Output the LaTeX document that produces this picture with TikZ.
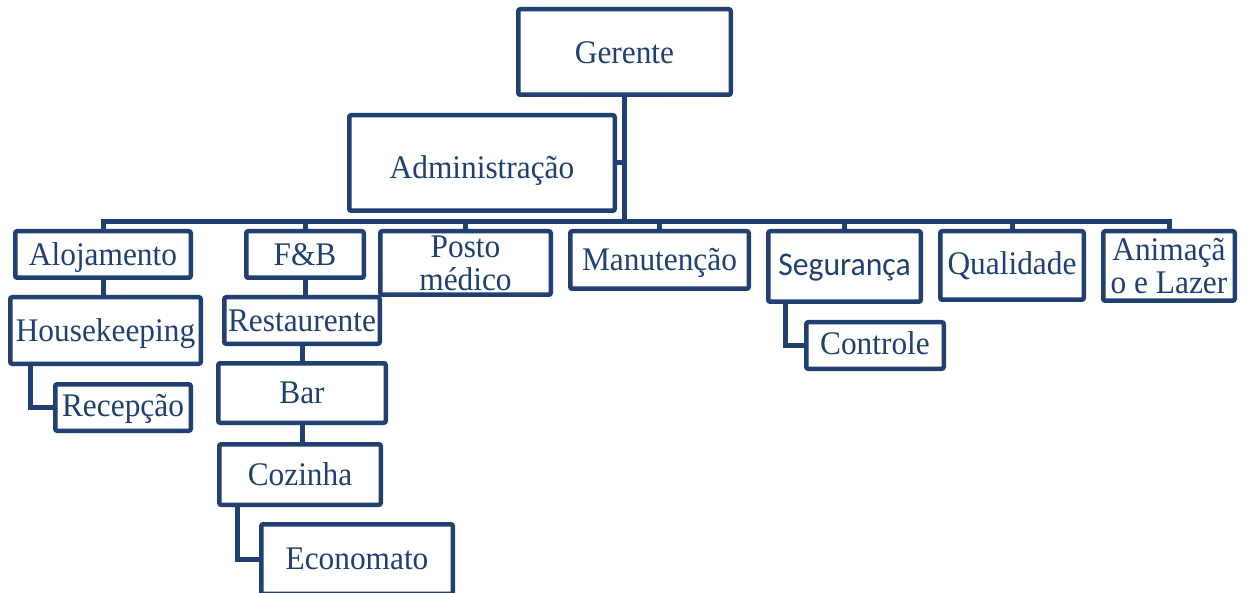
\documentclass[tikz,border=0pt]{standalone}
\usepackage{fontspec}
\setmainfont{Liberation Serif}[FakeStretch=0.95]
\newfontfamily\calib{Carlito}[FakeStretch=0.96]
\usetikzlibrary{backgrounds}
\definecolor{navy}{RGB}{31,64,112}
\begin{document}
\begin{tikzpicture}[x=1pt,y=-1pt,
  box/.style={draw=navy, line width=4.5pt, fill=white, rounded corners=2pt, inner sep=0pt,
    text=navy, font=\fontsize{33}{33}\selectfont, align=center},
  one/.style={text height=#1, text depth=0pt},
  one/.default=21.5pt,
  conn/.style={draw=navy, line width=5pt, line join=miter}]
\useasboundingbox (0,0) rectangle (1244,593);
\clip (0,0) rectangle (1244,593);
% top
\node[box, one=22.5pt, minimum width=212.5pt, minimum height=85.5pt] (ger) at (624.5,52) {Gerente};
\node[box, one=32pt, minimum width=265.5pt, minimum height=95.5pt] (adm) at (482,163) {Administração};
% level 2
\node[box, one, minimum width=175.5pt, minimum height=46.5pt] (aloj) at (103,254.5) {Alojamento};
\node[box, one, minimum width=117.5pt, minimum height=46.5pt] (fb) at (305,254.5) {F\&B};
\node[box, minimum width=170.5pt, minimum height=63.5pt] (posto) at (465.5,263) {Posto\\médico};
\node[box, one=22pt, minimum width=178.5pt, minimum height=57.5pt] (man) at (659.5,260) {Manutenção};
\node[box, one=19pt, minimum width=152.5pt, minimum height=70.5pt] (seg) at (844.5,266.5) {\calib Segurança};
\node[box, one=19pt, minimum width=143.5pt, minimum height=68.5pt] (qual) at (1012,265.5) {Qualidade};
\node[box, minimum width=131.5pt, minimum height=69.5pt] (anim) at (1169,266) {Animaçã\\o e Lazer};
% level 3+
\node[box, one, minimum width=190.5pt, minimum height=66.5pt] (hk) at (105.5,330.5) {Housekeeping};
\node[box, one=17pt, minimum width=135.5pt, minimum height=46.5pt] (rec) at (123,407.5) {Recepção};
\node[box, one, minimum width=155.5pt, minimum height=46.5pt] (rest) at (302,320.5) {Restaurente};
\node[box, one=20pt, minimum width=167.5pt, minimum height=59.5pt] (bar) at (302,393) {Bar};
\node[box, one, minimum width=161.5pt, minimum height=60.5pt] (coz) at (300,474.5) {Cozinha};
\node[box, one=20pt, minimum width=191.5pt, minimum height=69.5pt] (eco) at (357,559) {Economato};
\node[box, one=19pt, minimum width=137.5pt, minimum height=46.5pt] (ctl) at (875,345.5) {Controle};
\coordinate (bus) at (0,222);
\coordinate (hkx) at (30,0);
\coordinate (cozx) at (237,0);
\coordinate (segx) at (785,0);
\begin{pgfonlayer}{background}
\draw[conn] (ger.south) -- (ger.south |- bus);
\draw[conn] (adm.east) -- (adm.east -| ger.south);
\foreach \n in {aloj,fb,posto,man,seg,qual,anim}
  \draw[conn] (ger.south |- bus) -| (\n.north);
\draw[conn] (aloj.south) -- (aloj.south |- hk.north);
\draw[conn] (hk.south -| hkx) |- (rec.west);
\draw[conn] (fb.south) -- (fb.south |- rest.north);
\draw[conn] (rest.south) -- (bar.north);
\draw[conn] (bar.south) -- (bar.south |- coz.north);
\draw[conn] (coz.south -| cozx) |- (eco.west);
\draw[conn] (seg.south -| segx) |- (ctl.west);
\end{pgfonlayer}
\end{tikzpicture}
\end{document}
